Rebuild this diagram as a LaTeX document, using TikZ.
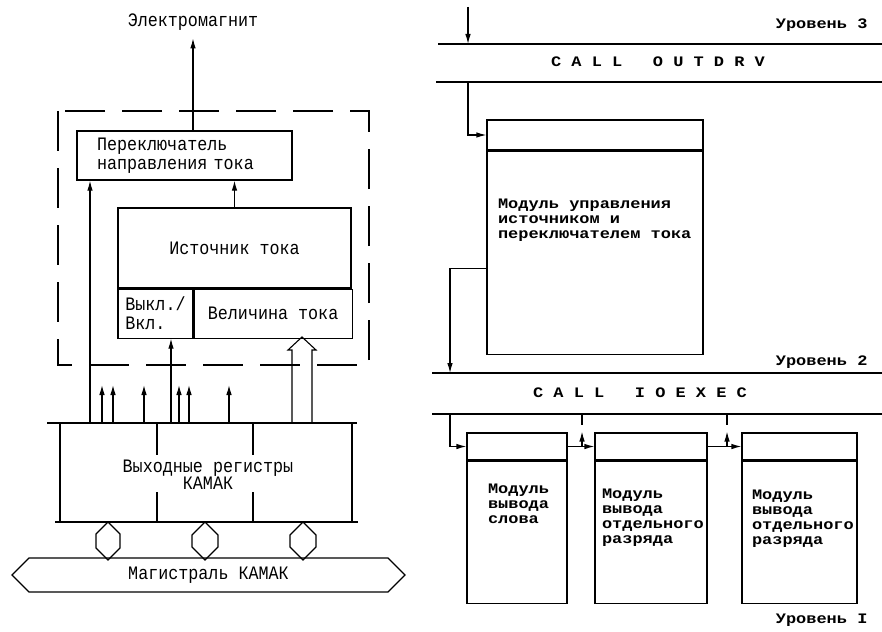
\documentclass[tikz,border=0pt]{standalone}
\usepackage{fontspec}
\newfontfamily\tw[FakeStretch=0.88]{Liberation Mono}
\newfontfamily\twb[FakeStretch=1.17]{Liberation Mono}
\usetikzlibrary{arrows.meta,positioning,shapes.arrows}

\begin{document}
\begin{tikzpicture}[x=1pt,y=-1pt,line width=1.1pt,
box/.style={draw,inner sep=0pt,align=center,font=\tw\fontsize{19}{19}\selectfont},
lbl/.style={inner sep=0pt,font=\tw\fontsize{19}{19}\selectfont},
mbox/.style={draw,inner sep=0pt},
mtxt/.style={inner sep=0pt,align=left,font=\twb\bfseries\fontsize{14.5}{15}\selectfont},
arrow/.style={-{Latex[length=10pt,width=5.5pt]}},
hollow/.style={draw,double arrow,double arrow head extend=0pt,inner sep=0pt},
dashframe/.style={dash pattern=on 40pt off 17pt}
]
\useasboundingbox (0,0) rectangle (882,631);

% left part: current source and CAMAC registers
\node[lbl] (em) at (193,22) {Электромагнит};
\node[box,minimum width=215pt,minimum height=49pt,text width=175pt,align=left] (sw) at (184.5,155.5) {Переключатель\\направления тока};
\node[box,minimum width=233pt,minimum height=80pt] (src) at (234.5,248) {Источник тока};
\node[box,anchor=north west,minimum width=75pt,minimum height=49pt,align=left] (onoff) at (src.south west) {Выкл./\\Вкл.};
\node[box,anchor=north west,minimum width=158pt,minimum height=49pt] (amount) at (onoff.north east) {Величина тока};
\draw[dashframe] (58,111) rectangle (369,365);
\draw[arrow] (sw.north -| em) -- ++(0,-92);
\draw[arrow] (src.north) -- (src.north |- sw.south);

\node[lbl,align=center,font=\tw\fontsize{19}{15}\selectfont] (reg) at (208,475) {Выходные регистры\\КАМАК};
\draw (47,423) coordinate (regtop) -- (357,423);
\draw (55,522) -- (358,522);
\draw (60,423) -- (60,522) (352,423) -- (352,522);
\foreach \x in {157,253} \draw (\x,423) -- (\x,455) (\x,492) -- (\x,522);

\coordinate (k1) at (90,0);
\coordinate (k2) at (171,0);
\draw[arrow] (k1 |- regtop) -- (k1 |- sw.south);
\draw[arrow] (k2 |- regtop) -- (k2 |- onoff.south);
\foreach \x in {102,113,144,179,189,229} \draw[arrow] (\x,423) -- (\x,385);
\draw (292,423) -- (292,350) -- (288,350) -- (302,337) -- (316,350) -- (312,350) -- (312,423);

\foreach \x/\w [count=\i] in {108/24,205/26,303/26}
  \node[hollow,rotate=90,minimum height=38pt,minimum width=\w pt] (io\i) at (\x,541) {};
\node[hollow,minimum height=393pt,minimum width=34pt,font=\tw\fontsize{19}{19}\selectfont] (bus) at (208.5,575) {Магистраль КАМАК};

% right part: program levels
\coordinate (right) at (882,0);
\coordinate (bar3t) at (438,44);
\coordinate (bar3b) at (436,82);
\coordinate (bar2t) at (432,373);
\coordinate (bar2b) at (432,414);
\draw (bar3t) -- (bar3t -| right);
\draw (bar3b) -- (bar3b -| right);
\draw (bar2t) -- (bar2t -| right);
\draw (bar2b) -- (bar2b -| right);
\node[mtxt,anchor=east] (lev3) at (868,25) {Уровень 3};
\node[mtxt,anchor=east] (lev2) at (868,362) {Уровень 2};
\node[mtxt,anchor=east] (lev1) at (868,620) {Уровень I};
\node[mtxt] (outdrv) at (658,62) {C A L L\ \ \ O U T D R V};
\node[mtxt] (ioexec) at (640,393) {C A L L\ \ \ I O E X E C};

\node[mbox,minimum width=216pt,minimum height=30pt] (modh) at (595,135) {};
\node[mbox,minimum width=216pt,minimum height=203pt,below=0pt of modh] (modb) {};
\node[mtxt,below right=48pt and 11pt of modh.south west] (modt) {Модуль управления\\источником и\\переключателем тока};

\node[mbox,minimum width=100pt,minimum height=27pt] (w1h) at (517,446.5) {};
\node[mbox,minimum width=100pt,minimum height=142pt,below=0pt of w1h] (w1b) {};
\node[mbox,minimum width=112pt,minimum height=27pt] (w2h) at (651,446.5) {};
\node[mbox,minimum width=112pt,minimum height=142pt,below=0pt of w2h] (w2b) {};
\node[mbox,minimum width=115pt,minimum height=27pt] (w3h) at (799.5,446.5) {};
\node[mbox,minimum width=115pt,minimum height=142pt,below=0pt of w3h] (w3b) {};
\node[mtxt,below right=23pt and 21pt of w1h.south west] (w1t) {Модуль\\вывода\\слова};
\node[mtxt,below right=28pt and 7pt of w2h.south west] (w2t) {Модуль\\вывода\\отдельного\\разряда};
\node[mtxt,below right=29pt and 10pt of w3h.south west] (w3t) {Модуль\\вывода\\отдельного\\разряда};

\coordinate (in3) at (468,7);
\coordinate (ret) at (450,0);
\coordinate (t1) at (582,0);
\coordinate (t2) at (727,0);
\draw[arrow] (in3) -- (in3 |- bar3t);
\draw[arrow] (in3 |- bar3b) |- (modh.west);
\draw[arrow] ([yshift=-15.5pt]modb.west) -| (ret |- bar2t);
\draw[arrow] (ret |- bar2b) |- (w1h.west);
\draw[arrow] (w1h.east) -- (w2h.west);
\draw[arrow] (w2h.east) -- (w3h.west);
\draw (t1 |- bar2b) -- ++(0,11);
\draw[arrow] (t1 |- w1h.east) -- ++(0,-15);
\draw (t2 |- bar2b) -- ++(0,11);
\draw[arrow] (t2 |- w2h.east) -- ++(0,-15);
\end{tikzpicture}
\end{document}
